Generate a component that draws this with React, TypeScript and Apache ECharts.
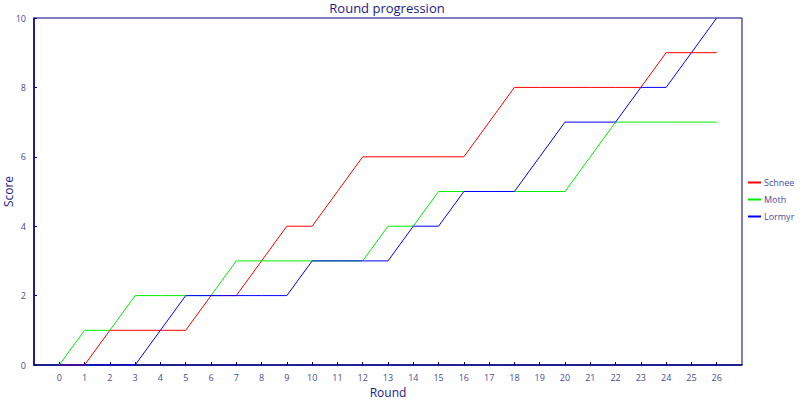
import React, { useEffect, useRef } from "react";
import * as echarts from "echarts";

const rounds: number[] = Array.from({ length: 27 }, (_, i) => i);
const schnee = [0, 0, 1, 1, 1, 1, 2, 2, 3, 4, 4, 5, 6, 6, 6, 6, 6, 7, 8, 8, 8, 8, 8, 8, 9, 9, 9];
const moth = [0, 1, 1, 2, 2, 2, 2, 3, 3, 3, 3, 3, 3, 4, 4, 5, 5, 5, 5, 5, 5, 6, 7, 7, 7, 7, 7];
const lormyr = [0, 0, 0, 0, 1, 2, 2, 2, 2, 2, 3, 3, 3, 3, 4, 4, 5, 5, 5, 6, 7, 7, 7, 8, 8, 9, 10];
const yTicks = { min: 0, max: 10, interval: 2 };
const xRange = { min: -1, max: 27, interval: 1 };

const NAVY = "#000080";
const LABEL = "#4b4b9b";
const FONT = "'Open Sans', 'DejaVu Sans', sans-serif";

export default function App() {
  const ref = useRef<HTMLDivElement>(null);
  useEffect(() => {
    if (!ref.current) return;
    const chart = echarts.init(ref.current, undefined, { renderer: "svg" });
    const mk = (name: string, color: string, vals: number[]) => ({
      name,
      type: "line",
      data: vals.map((v, i) => [rounds[i], v]),
      symbol: "none",
      lineStyle: { color, width: 1 },
      itemStyle: { color },
      z: 3,
    });
    chart.setOption({
      animation: false,
      textStyle: { fontFamily: FONT },
      title: {
        text: "Round progression",
        left: 387,
        textAlign: "center",
        top: 1,
        padding: 0,
        textStyle: { color: "#1a1a8a", fontSize: 13, fontWeight: "normal", fontFamily: FONT },
      },
      legend: {
        orient: "vertical",
        left: 748,
        top: 178,
        padding: 0,
        itemWidth: 13,
        itemHeight: 2,
        itemGap: 8,
        icon: "rect",
        textStyle: { color: LABEL, fontSize: 9, fontFamily: FONT, padding: [0, 0, 0, -2] },
        data: ["Schnee", "Moth", "Lormyr"],
      },
      grid: {
        left: 34,
        right: 58,
        top: 18,
        bottom: 35,
        outerBoundsMode: "none",
        containLabel: false,
        show: true,
        borderColor: NAVY,
        borderWidth: 1,
      },
      xAxis: {
        type: "value",
        min: xRange.min,
        max: xRange.max,
        interval: xRange.interval,
        name: "Round",
        nameLocation: "middle",
        nameGap: 21,
        nameTextStyle: { color: "#1a1a8a", fontSize: 12, fontFamily: FONT },
        axisLine: { show: true, onZero: false, lineStyle: { color: NAVY, width: 1.5 } },
        axisTick: { show: true, inside: true, length: 3, lineStyle: { color: NAVY } },
        axisLabel: {
          color: LABEL,
          fontSize: 9,
          fontFamily: FONT,
          margin: 8,
          showMinLabel: false,
          showMaxLabel: false,
          formatter: (v: number) => (v < 0 || v > 26 ? "" : String(v)),
        },
        splitLine: { show: false },
      },
      yAxis: {
        type: "value",
        min: yTicks.min,
        max: yTicks.max,
        interval: yTicks.interval,
        name: "Score",
        nameLocation: "middle",
        nameGap: 20,
        nameMoveOverlap: false,
        nameTextStyle: { color: "#1a1a8a", fontSize: 12, fontFamily: FONT },
        axisLine: { show: true, onZero: false, lineStyle: { color: NAVY, width: 1.5 } },
        axisTick: { show: true, inside: true, length: 3, lineStyle: { color: NAVY } },
        axisLabel: { color: LABEL, fontSize: 9, fontFamily: FONT, margin: 8 },
        splitLine: { show: false },
      },
      series: [mk("Schnee", "#ff0000", schnee), mk("Moth", "#00ee00", moth), mk("Lormyr", "#0000ff", lormyr)],
    });
    return () => chart.dispose();
  }, []);
  return <div ref={ref} style={{ width: 800, height: 400, position: "absolute", left: 0, top: 0 }} />;
}
